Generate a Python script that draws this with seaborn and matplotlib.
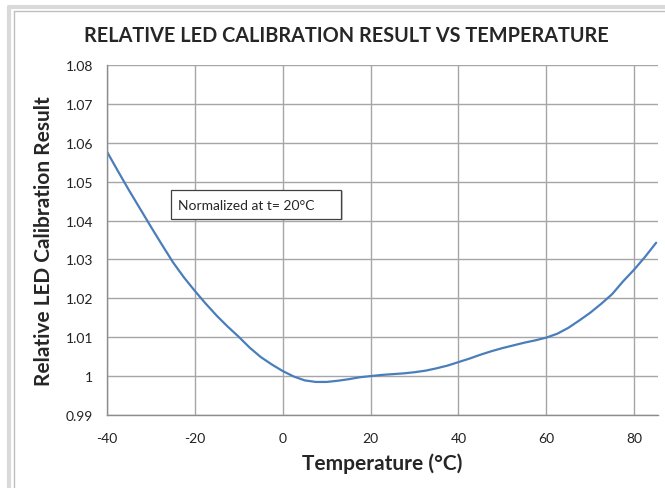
import numpy as np
import pandas as pd
import seaborn as sns
import matplotlib
matplotlib.use("Agg")
import matplotlib.pyplot as plt
from matplotlib.lines import Line2D
from matplotlib.patches import Rectangle
from matplotlib.ticker import FuncFormatter, MultipleLocator

# values (every 2.5 degC)
temperature = [-40, -37.5, -35, -32.5, -30, -27.5, -25, -22.5, -20, -17.5,
               -15, -12.5, -10, -7.5, -5, -2.5, 0, 2.5, 5, 7.5, 10, 12.5,
               15, 17.5, 20, 22.5, 25, 27.5, 30, 32.5, 35, 37.5, 40, 42.5,
               45, 47.5, 50, 52.5, 55, 57.5, 60, 62.5, 65, 67.5, 70, 72.5,
               75, 77.5, 80, 82.5, 85]
relative_cal = [1.0577, 1.0527, 1.0478, 1.0431, 1.0384, 1.0338, 1.0293,
                1.0254, 1.0219, 1.0186, 1.0155, 1.0127, 1.0101, 1.0073,
                1.0049, 1.0030, 1.0013, 0.9999, 0.9989, 0.9985, 0.9985,
                0.9988, 0.9992, 0.9997, 1.0000, 1.0003, 1.0005, 1.0007,
                1.0010, 1.0014, 1.0020, 1.0027, 1.0036, 1.0045, 1.0055,
                1.0064, 1.0072, 1.0079, 1.0086, 1.0092, 1.0099, 1.0109,
                1.0124, 1.0143, 1.0163, 1.0186, 1.0211, 1.0244, 1.0274,
                1.0307, 1.0343]

title = "RELATIVE LED CALIBRATION RESULT VS TEMPERATURE"
xlabel = "Temperature (°C)"
ylabel = "Relative LED Calibration Result"
note = "Normalized at t= 20°C"

df = pd.DataFrame({"t": temperature, "r": relative_cal})

sns.set_style("white")
plt.rcParams['font.family'] = ['Lato', 'DejaVu Sans']
plt.rcParams['axes.unicode_minus'] = False

fig = plt.figure(figsize=(6.65, 4.89), dpi=100)
ax = fig.add_axes([0.1609, 0.1493, 0.8291, 0.7157])

sns.lineplot(data=df, x="t", y="r", ax=ax, color="#4A7EBB", linewidth=1.6)

ax.set_xlim(-40, 85.5)
ax.set_ylim(0.99, 1.08)
ax.xaxis.set_major_locator(MultipleLocator(20))
ax.yaxis.set_major_locator(MultipleLocator(0.01))
ax.yaxis.set_major_formatter(FuncFormatter(lambda v, p: "%g" % round(v, 2)))

grid_c = "#A6A6A6"
ax.grid(True, color=grid_c, linewidth=1.0)
ax.set_axisbelow(True)
for side in ["top", "right"]:
    ax.spines[side].set_visible(False)
for side in ["left", "bottom"]:
    ax.spines[side].set_color("#8C8C8C")
    ax.spines[side].set_linewidth(1.0)
ax.tick_params(axis="both", direction="out", length=4, width=1,
               color="#8C8C8C", labelsize=10, labelcolor="#222222")
ax.tick_params(axis="x", pad=8)
ax.tick_params(axis="y", pad=6)

ax.set_xlabel(xlabel, fontsize=15, fontweight="bold", labelpad=6)
ax.set_ylabel(ylabel, fontsize=15, fontweight="bold", labelpad=8)
fig.text(0.521, 0.926, title, ha="center", va="center",
         fontsize=14.3, fontweight="bold")

# note box (Excel text box, wider than its text, slight shadow)
ax.add_patch(Rectangle((-25.0, 1.0401), 38.7, 0.0075, facecolor="#C8C8C8",
                       edgecolor="none", zorder=4))
ax.add_patch(Rectangle((-25.4, 1.0404), 38.7, 0.0075, facecolor="white",
                       edgecolor="#404040", linewidth=0.9, zorder=5))
ax.text(-23.8, 1.0441, note, fontsize=10, ha="left", va="center", zorder=6)

# outer chart frame, clipped on right and bottom like the screenshot
for x0, lw, c in [(9 / 665, 3, "#D9D9D9"), (14 / 665, 1, "#BFBFBF")]:
    fig.add_artist(Line2D([x0, x0], [0, 1 - (7.5 if lw == 3 else 12) / 489],
                          color=c, linewidth=lw, transform=fig.transFigure))
for y0, lw, c in [(1 - 7.5 / 489, 3, "#D9D9D9"), (1 - 12 / 489, 1, "#BFBFBF")]:
    fig.add_artist(Line2D([9 / 665 if lw == 3 else 14 / 665, 1], [y0, y0],
                          color=c, linewidth=lw, transform=fig.transFigure))

fig.savefig("out.png", dpi=100)
